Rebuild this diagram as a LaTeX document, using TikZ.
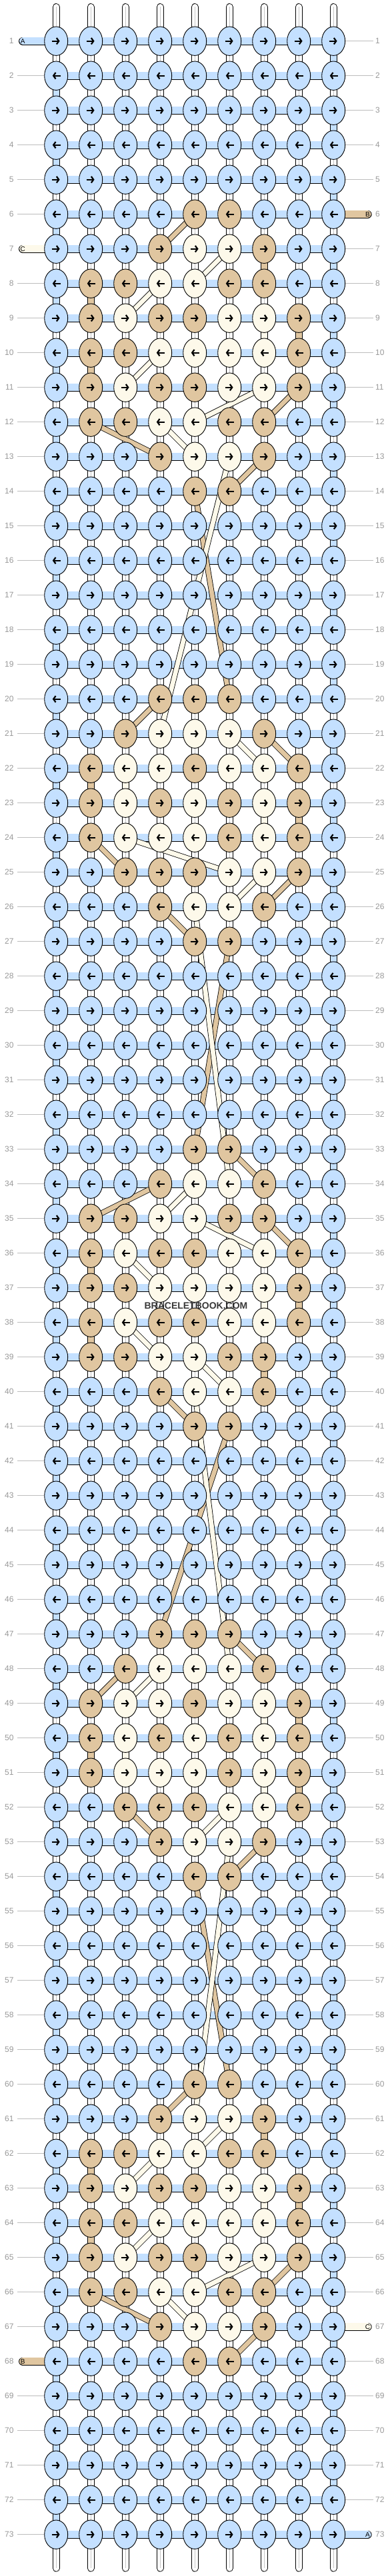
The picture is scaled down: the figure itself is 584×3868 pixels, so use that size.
\documentclass[tikz,border=0pt]{standalone}
\usepackage{fontspec}
\setmainfont{Liberation Sans}
\usetikzlibrary{arrows.meta, shapes.geometric}
\definecolor{strA}{HTML}{C4E0FF}
\definecolor{strB}{HTML}{E0C6A0}
\definecolor{strC}{HTML}{FDF9EA}
\definecolor{labgray}{HTML}{999999}
\definecolor{guidegray}{HTML}{BDBDBD}
\pgfdeclarelayer{warps}
\pgfdeclarelayer{bars}
\pgfdeclarelayer{strands}
\pgfsetlayers{warps,bars,strands,main}
\def\knotlist#1#2#3#4#5#6#7#8#9{#1,#2,#3,#4,#5,#6,#7,#8,#9}

\begin{document}
\begin{tikzpicture}[x=1pt, y=-1pt,
      knot/.style = {ellipse, draw, line width=0.9pt, inner sep=0pt,
                     minimum width=35pt, minimum height=43.4pt},
     knotE/.style = {knot, path picture={\draw[tip]
                     ([xshift=-6.7pt]path picture bounding box.center) --
                     ([xshift=5.4pt]path picture bounding box.center);}},
     knotW/.style = {knot, path picture={\draw[tip]
                     ([xshift=6.7pt]path picture bounding box.center) --
                     ([xshift=-5.4pt]path picture bounding box.center);}},
       tip/.style = {line width=2.2pt, -{Straight Barb[length=3.4pt, width=9.5pt]}},
      warp/.style = {line width=0.9pt, double=white, double distance=8.9pt},
   warpmid/.style = {gray!45, line width=0.8pt},
      hbar/.style = {line width=0.9pt, double=strA, double distance=10.5pt},
      vbar/.style = {line width=0.9pt, double=#1, double distance=8.9pt},
    strand/.style = {line width=0.8pt, double=#1, double distance=6.8pt},
    tabend/.style = {line width=0.9pt, double=#1, double distance=10.5pt,
                     line cap=round},
   tabtext/.style = {inner sep=0pt, font=\fontsize{10pt}{10pt}\selectfont},
   rowlabL/.style = {anchor=east, inner ysep=0pt, inner xsep=5.3pt,
                     font=\fontsize{12pt}{12pt}\selectfont, text=labgray},
   rowlabR/.style = {anchor=west, inner ysep=0pt, inner xsep=3pt,
                     font=\fontsize{12pt}{12pt}\selectfont, text=labgray},
     guide/.style = {guidegray, line width=0.8pt},
     stamp/.style = {font=\bfseries\fontsize{14pt}{14pt}\selectfont, text=black!78}
  ]
\useasboundingbox (0,0) rectangle (584,3868);
% knots
\foreach \pat [count=\r] in {AAAAAAAAA,AAAAAAAAA,AAAAAAAAA,AAAAAAAAA,AAAAAAAAA,
    AAAABBAAA,AAABCCBAA,ABBCCBBAA,ABCBBCCBA,ABBCCCCBA,ABCBBCCBA,ABBCCBBAA,
    AAABCCBAA,AAAABBAAA,
    AAAAAAAAA,AAAAAAAAA,AAAAAAAAA,AAAAAAAAA,AAAAAAAAA,
    AAABBBAAA,AABCCCBAA,ABCCBCCBA,ABCBCBCBA,ABCCCBCBA,AABBBCCBA,AAABCCBAA,
    AAAABBAAA,
    AAAAAAAAA,AAAAAAAAA,AAAAAAAAA,AAAAAAAAA,AAAAAAAAA,
    AAAABBAAA,AAABCCBAA,ABBCCBBAA,ABCBBCCBA,ABBCCCCBA,ABCBBCCBA,ABBCCBBAA,
    AAABCCBAA,AAAABBAAA,
    AAAAAAAAA,AAAAAAAAA,AAAAAAAAA,AAAAAAAAA,AAAAAAAAA,
    AAABBBAAA,AABCCCBAA,ABCCBCCBA,ABCBCBCBA,ABCCCBCBA,AABBBCCBA,AAABCCBAA,
    AAAABBAAA,
    AAAAAAAAA,AAAAAAAAA,AAAAAAAAA,AAAAAAAAA,AAAAAAAAA,
    AAAABBAAA,AAABCCBAA,ABBCCBBAA,ABCBBCCBA,ABBCCCCBA,ABCBBCCBA,ABBCCBBAA,
    AAABCCBAA,AAAABBAAA,
    AAAAAAAAA,AAAAAAAAA,AAAAAAAAA,AAAAAAAAA,AAAAAAAAA} {
  \ifodd\r \def\dir{E}\else \def\dir{W}\fi
  \edef\cols{\expandafter\knotlist\pat}
  \foreach \col [count=\c] in \cols
    \node[knot\dir, fill=str\col] (k-\r-\c)
      at ({84.2+52*(\c-1)}, {61.7+52*(\r-1)}) {};
}
% warps
\begin{pgfonlayer}{warps}
\fill[white] (0,0) rectangle (584,3868);
\foreach \c in {1,...,9} {
  \coordinate (top-\c) at ({84.2+52*(\c-1)}, 10.4);
  \coordinate (bot-\c) at ({84.2+52*(\c-1)}, 3856.3);
  \draw[warp, line cap=round] (top-\c) -- (k-1-\c.center);
  \draw[warpmid] (top-\c) -- (k-1-\c.center);
  \draw[warp, line cap=round] (k-73-\c.center) -- (bot-\c);
  \draw[warpmid] (k-73-\c.center) -- (bot-\c);
  \foreach \r in {1,...,72} {
    \pgfmathtruncatemacro\s{\r+1}
    \draw[warp] (k-\r-\c.center) -- (k-\s-\c.center);
    \draw[warpmid] (k-\r-\c.center) -- (k-\s-\c.center);
  }
}
\end{pgfonlayer}
% rows and carried strings
\begin{pgfonlayer}{bars}
\foreach \r in {1,...,73}
  \foreach \c in {1,...,8} {
    \pgfmathtruncatemacro\d{\c+1}
    \draw[hbar] (k-\r-\c.center) -- (k-\r-\d.center);
  }
\foreach \r/\c in {1/9,3/9,5/9,7/9,9/9,11/9,13/9,15/9,17/9,19/9,21/9,23/9,
    25/9,27/9,29/9,31/9,33/9,35/9,37/9,39/9,41/9,43/9,45/9,47/9,49/9,51/9,
    53/9,55/9,57/9,59/9,61/9,63/9,65/9,67/9,69/9,71/9,
    2/1,4/1,6/1,8/1,10/1,12/1,14/1,16/1,18/1,20/1,22/1,24/1,26/1,28/1,30/1,
    32/1,34/1,36/1,38/1,40/1,42/1,44/1,46/1,48/1,50/1,52/1,54/1,56/1,58/1,
    60/1,62/1,64/1,66/1,68/1,70/1,72/1} {
  \pgfmathtruncatemacro\s{\r+1}
  \draw[vbar=strA] (k-\r-\c.center) -- (k-\s-\c.center);
}
\foreach \r/\c in {7/7,8/2,9/8,10/2,22/2,23/8,36/2,37/8,38/2,39/7,49/8,50/2,
    51/8,61/7,62/2,63/8,64/2} {
  \pgfmathtruncatemacro\s{\r+1}
  \draw[vbar=strB] (k-\r-\c.center) -- (k-\s-\c.center);
}
\foreach \r/\c in {9/7,22/3,23/7,37/7,49/7,50/3,51/7,63/7} {
  \pgfmathtruncatemacro\s{\r+1}
  \draw[vbar=strC] (k-\r-\c.center) -- (k-\s-\c.center);
}
\end{pgfonlayer}
\begin{pgfonlayer}{strands}
\foreach \ra/\ca/\rb/\cb in {6/5/7/4,11/8/12/7,12/2/13/4,13/7/14/6,14/5/20/6,
    20/4/21/3,21/7/22/8,24/2/25/3,25/8/26/7,26/4/27/5,27/6/33/5,33/6/34/7,
    34/4/35/2,35/7/36/8,40/4/41/5,41/6/47/4,47/6/48/7,48/3/49/2,52/3/53/4,
    53/7/54/6,54/5/60/6,60/5/61/4,65/8/66/7,66/2/67/4,67/7/68/6}
  \draw[strand=strB] (k-\ra-\ca.center) -- (k-\rb-\cb.center);
\foreach \ra/\ca/\rb/\cb in {7/6/8/5,8/4/9/3,10/4/11/3,11/7/12/5,12/4/13/5,
    13/6/21/4,21/6/22/7,24/3/25/6,25/7/26/6,26/5/34/6,34/5/35/4,35/5/36/7,
    36/3/37/4,38/3/39/4,39/5/40/6,40/5/48/6,48/4/49/3,52/6/53/5,53/6/61/5,
    61/6/62/5,62/4/63/3,64/4/65/3,65/7/66/5,66/4/67/5}
  \draw[strand=strC] (k-\ra-\ca.center) -- (k-\rb-\cb.center);
\end{pgfonlayer}
% string ends
\node[tabtext] (tab-A1)  at (34.2, 61.7)    {A};
\node[tabtext] (tab-B6)  at (551.5, 321.7)  {B};
\node[tabtext] (tab-C7)  at (34.2, 373.7)   {C};
\node[tabtext] (tab-C67) at (551.5, 3493.7) {C};
\node[tabtext] (tab-B68) at (34.2, 3545.7)  {B};
\node[tabtext] (tab-A73) at (551.5, 3805.7) {A};
\begin{pgfonlayer}{bars}
\draw[tabend=strA] (tab-A1.center)  -- (k-1-1.center);
\draw[tabend=strB] (tab-B6.center)  -- (k-6-9.center);
\draw[tabend=strC] (tab-C7.center)  -- (k-7-1.center);
\draw[tabend=strC] (tab-C67.center) -- (k-67-9.center);
\draw[tabend=strB] (tab-B68.center) -- (k-68-1.center);
\draw[tabend=strA] (tab-A73.center) -- (k-73-9.center);
\end{pgfonlayer}
% row numbers
\foreach \r in {1,...,73} {
  \node[rowlabL] (ll-\r) at (26, {61.7+52*(\r-1)}) {\r};
  \node[rowlabR] (rl-\r) at (560, {61.7+52*(\r-1)}) {\r};
}
\foreach \r in {2,...,6,8,9,...,67,69,70,...,73}
  \draw[guide] (ll-\r) -- (k-\r-1);
\foreach \r in {1,...,5,7,8,...,66,68,69,...,72}
  \draw[guide] (k-\r-9) -- (rl-\r);
\node[stamp] (wm) at (294, 1961) {BRACELETBOOK.COM};
\end{tikzpicture}
\end{document}
